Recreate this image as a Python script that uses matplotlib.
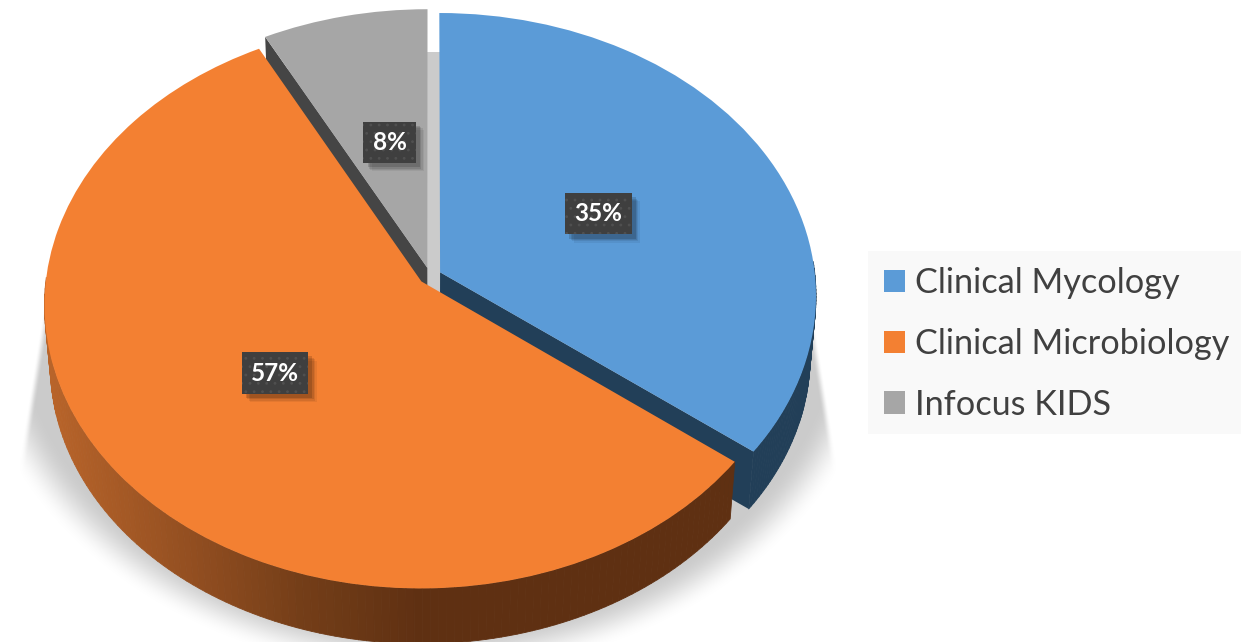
import numpy as np
import matplotlib
matplotlib.use("Agg")
import matplotlib.pyplot as plt
from matplotlib.collections import PolyCollection
from matplotlib.patches import Rectangle
from matplotlib.transforms import Transform
import matplotlib.patheffects as pe

# Data
categories = ["Clinical Mycology", "Clinical Microbiology", "Infocus KIDS"]
shares = [35.4, 56.9, 7.7]
top_colors = ["#5b9bd7", "#f38032", "#a6a6a6"]
side_colors = ["#223f58", "#5f3012", "#454545"]

W, H = 1258, 642

# tilted disc -> picture pixels
CX, CY = 430, 276
RX, RY = 375, 281
K = 0.0816
DEPTH = 60
DEPTH_SCALE = 0.985

# which straight cut of each slice faces the viewer (None = hidden)
open_cut = [0, None, -1]
# small label shifts, disc units
label_shift = [(0, 0), (-0.012, -0.007), (0.01, 0)]


class PieProjection(Transform):
    input_dims = 2
    output_dims = 2

    def transform_non_affine(self, values):
        values = np.asarray(values, dtype=float)
        s = 1 / (1 + K * values[:, 1])
        return np.column_stack([CX + RX * values[:, 0] * s, CY - RY * values[:, 1] * s])


def project(u, v, low=False):
    xy = PieProjection().transform_non_affine(np.column_stack([u, v]))
    if low:
        xy = np.column_stack([CX + (xy[:, 0] - CX) * DEPTH_SCALE,
                              CY + (xy[:, 1] - CY) * DEPTH_SCALE + DEPTH])
    return xy


def orange_side(x):
    stops = [50, 200, 300, 420]
    r = np.interp(x, stops, [0xb8, 0x90, 0x74, 0x5f])
    g = np.interp(x, stops, [0x64, 0x4d, 0x3e, 0x30])
    b = np.interp(x, stops, [0x2a, 0x20, 0x18, 0x12])
    return np.column_stack([r, g, b]) / 255


def soft(edge):
    t = np.clip(edge, 0, 1)
    return t * t * (3 - 2 * t)


def shadow_image():
    yy, xx = np.mgrid[0:H, 0:W] + 0.5
    q = np.hypot((xx - 428) / 462, (yy - 300) / 375)
    alpha = soft((1.0 - q) / 0.11)
    lower = 372 + (yy - 230) * 0.16
    upper = 372 * np.sqrt(np.clip(1 - ((277 - yy) / 225) ** 2, 0, 1))
    half = np.where(yy > 230, lower, upper)
    alpha = alpha * soft((half - np.abs(xx - 428)) / 8)
    img = np.zeros((H, W, 4))
    img[..., :3] = 0xcb / 255
    img[..., 3] = alpha
    return img


plt.rcParams["hatch.linewidth"] = 0.8

fig = plt.figure(figsize=(W / 100, H / 100), dpi=100, facecolor="white")
ax = fig.add_axes([0, 0, 1, 1])

wedges, _, pct_texts = ax.pie(
    shares,
    colors=top_colors,
    startangle=90,
    counterclock=False,
    explode=[0.03, 0.03, 0.03],
    autopct="%.0f%%",
    pctdistance=0.48,
    wedgeprops={"linewidth": 0},
    textprops={"family": "Lato", "weight": "bold", "fontsize": 17.5, "color": "white"},
)

ax.imshow(shadow_image(), extent=[0, W, H, 0], aspect="auto", zorder=0)
ax.set_aspect("auto")
ax.set_xlim(0, W)
ax.set_ylim(H, 0)
ax.set_axis_off()

proj = PieProjection() + ax.transData

# sides first, then the tops; gray at the back, orange at the front
draw_order = [2, 0, 1]
for rank, i in enumerate(draw_order):
    w = wedges[i]
    base = 2 + rank * 2
    theta = np.radians(np.linspace(w.theta1, w.theta2, 181))
    u = w.center[0] + w.r * np.cos(theta)
    v = w.center[1] + w.r * np.sin(theta)

    if open_cut[i] is not None:
        end = open_cut[i]
        tip = (np.array([w.center[0], u[end]]), np.array([w.center[1], v[end]]))
        hi, lo = project(*tip), project(*tip, low=True)
        ax.fill([hi[0, 0], hi[1, 0], lo[1, 0], lo[0, 0]],
                [hi[0, 1], hi[1, 1], lo[1, 1], lo[0, 1]],
                color=side_colors[i], lw=0, zorder=base)

    # outer rim, front half only
    hi, lo = project(u, v), project(u, v, low=True)
    front = [j for j in range(len(u) - 1) if np.sin(theta[j]) < 0.03]
    if front:
        quads = [[hi[j], hi[j + 1], lo[j + 1], lo[j]] for j in front]
        if i == 1:
            rim = orange_side(np.array([(hi[j, 0] + hi[j + 1, 0]) / 2 for j in front]))
        else:
            rim = [side_colors[i]]
        ax.add_collection(PolyCollection(quads, facecolors=rim, edgecolors=rim, linewidths=0.6, zorder=base))

    w.set_transform(proj)
    w.set_zorder(base + 1)

for t, shift in zip(pct_texts, label_shift):
    x, y = t.get_position()
    t.set_position((x + shift[0], y + shift[1]))
    t.set_transform(proj)
    t.set_zorder(20)
    t.set_bbox(dict(boxstyle="square,pad=0.38", facecolor="#3f3f3f", edgecolor="#505050",
                    hatch="..", linewidth=0))
    t.get_bbox_patch().set_path_effects([
        pe.SimplePatchShadow(offset=(6, -6), shadow_rgbFace="#000000", alpha=0.06, hatch=None),
        pe.SimplePatchShadow(offset=(5, -5), shadow_rgbFace="#000000", alpha=0.08, hatch=None),
        pe.SimplePatchShadow(offset=(4, -4), shadow_rgbFace="#000000", alpha=0.10, hatch=None),
        pe.SimplePatchShadow(offset=(3, -3), shadow_rgbFace="#000000", alpha=0.14, hatch=None),
        pe.Normal(),
    ])

# legend panel
ax.add_patch(Rectangle((868, 251), 373, 183, facecolor="#f9f9f9", linewidth=0, zorder=29))

leg = ax.legend(
    wedges, categories,
    loc="upper left",
    bbox_to_anchor=(884 / W, 1 - 267 / H),
    bbox_transform=fig.transFigure,
    prop={"family": "Lato", "size": 24.7},
    labelcolor="#404040",
    frameon=False,
    borderaxespad=0,
    borderpad=0,
    handlelength=0.62,
    handleheight=0.62,
    handletextpad=0.28,
    labelspacing=0.84,
)
leg.set_zorder(30)

fig.savefig("out.png", dpi=100)
